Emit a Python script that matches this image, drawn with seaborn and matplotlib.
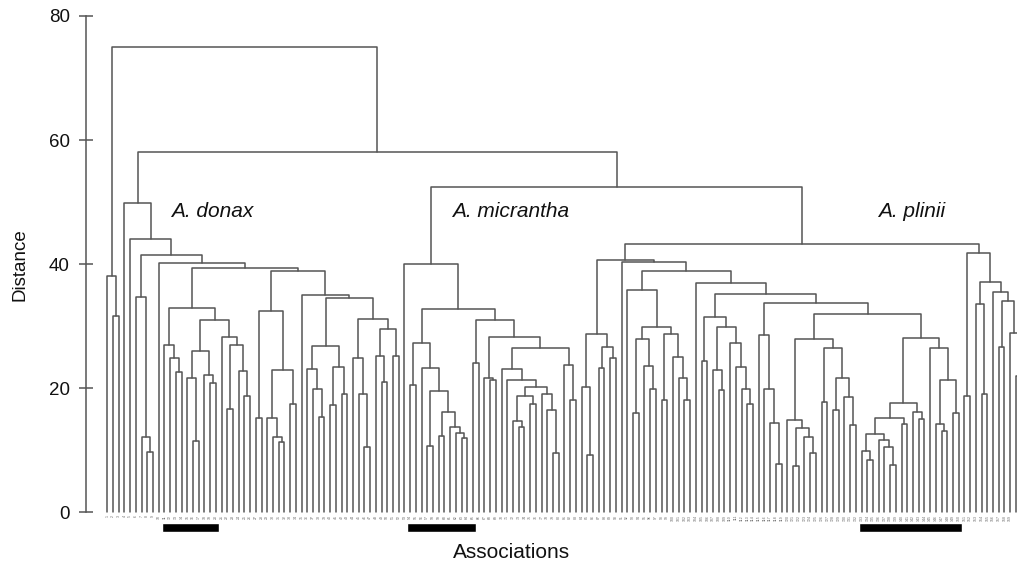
import numpy as np
import pandas as pd
import matplotlib
matplotlib.use('Agg')
import matplotlib.pyplot as plt
import seaborn as sns

outgroup_gaps = [38.1, 31.6]
root_height = 75.0
donax_gaps = [49.9, 44.1, 34.7, 12.1, 9.7, 41.5, 40.1, 26.9, 24.8, 22.6,
              32.9, 21.7, 11.5, 26.0, 22.1, 20.8, 30.9, 28.3, 16.7, 26.9,
              22.8, 18.8, 39.4, 15.2, 32.5, 15.2, 12.1, 11.3, 22.9, 17.4,
              38.8, 35.0, 23.0, 19.8, 15.4, 26.8, 17.3, 23.4, 19.0, 34.5,
              24.8, 19.1, 10.5, 31.2, 25.2, 21.0, 29.6, 25.2]
donax_split = 58.0
micrantha_gaps = [40.0, 20.5, 27.3, 23.2, 10.6, 19.6, 12.3, 16.2, 13.8, 12.8,
                  12.0, 32.8, 24.0, 30.9, 21.6, 21.3, 28.3, 23.0, 21.3, 14.7,
                  13.8, 18.8, 17.5, 20.2, 19.0, 16.5, 9.6, 26.4, 23.7, 18.1]
micrantha_split = 52.4
plinii_gaps = [20.2, 9.2, 28.8, 23.2, 26.7, 24.8,
               40.6, 40.4, 35.8,
               16.0, 27.9, 23.5, 19.9, 29.8, 18.1, 28.7, 25.0, 21.6, 18.1,
               38.8, 37.0,
               24.4, 31.4, 22.9, 19.7, 29.8, 27.3, 23.4, 19.9, 17.4,
               35.2,
               28.5, 19.8, 14.4, 7.8,
               33.7,
               14.8, 7.5, 13.5, 12.1, 9.5, 27.9, 17.8, 26.4, 16.5, 21.6, 18.5, 14.0,
               32.0,
               9.9, 8.4, 12.6, 11.6, 10.5, 7.6, 15.1, 14.2, 17.6, 16.2, 15.0,
               28.1, 26.4, 14.2, 13.0, 21.3, 15.9,
               43.3,
               18.7, 41.8, 33.5, 19.1, 37.1, 35.5, 26.7, 34.0, 28.9, 22.0]

# Grupos marcados con barras negras (indice de hoja inicial y final)
bar_first_leaf = [10, 53, 132]
bar_last_leaf = [19, 64, 149]

species = ['A. donax', 'A. micrantha', 'A. plinii']
species_x = [11.2, 60.4, 134.9]
species_y = [48.4, 48.4, 48.4]

gaps = np.array(outgroup_gaps + [root_height] + donax_gaps + [donax_split]
                + micrantha_gaps + [micrantha_split] + plinii_gaps)
n_leaves = len(gaps) + 1
leaf_ids = [str(i) for i in range(1, n_leaves + 1)]

# Reconstruir el arbol: la mayor altura entre vecinos divide cada grupo
points = []
def build(lo, hi):
    if lo == hi:
        return float(lo), 0.0
    k = lo + int(np.argmax(gaps[lo:hi]))
    xl, hl = build(lo, k)
    xr, hr = build(k + 1, hi)
    h = gaps[k]
    link = len(points)
    for px, py in [(xl, hl), (xl, h), (xr, h), (xr, hr)]:
        points.append({'link': link, 'x': px, 'y': py})
    return (xl + xr) / 2, h

build(0, n_leaves - 1)
links = pd.DataFrame(points)

sns.set_style('white')
plt.rcParams['font.family'] = ['Liberation Sans', 'DejaVu Sans']

fig = plt.figure(figsize=(10.17, 5.70), dpi=100)
ax = fig.add_axes([86 / 1017, 30 / 570, 931 / 1017, 524 / 570])

sns.lineplot(data=links, x='x', y='y', units='link', estimator=None, sort=False,
             color='#555555', linewidth=1.1, legend=False, ax=ax)

# Barras negras bajo las hojas
starts = np.array(bar_first_leaf) - 0.5
widths = np.array(bar_last_leaf) - np.array(bar_first_leaf) + 1
ax.barh(y=[-2.5] * len(starts), width=widths, left=starts, height=1.55, color='black')

# Etiquetas de las hojas (muy pequenas); la ultima queda fuera del recorte
xmax = 159.2
for i, lab in enumerate(leaf_ids):
    if i < xmax - 0.6:
        ax.text(i, -0.45, lab, rotation=90, fontsize=2.5, ha='center', va='top',
                color='#666666')

for name, sx, sy in zip(species, species_x, species_y):
    ax.text(sx, sy, name, fontsize=15, style='italic', ha='left', va='center', color='#111111')

ax.set_xlim(-3.73, xmax)
ax.set_ylim(-4.5, 80)
ax.set_xticks([])
ax.set_yticks([0, 20, 40, 60, 80])
ax.set_xlabel('')
ax.set_ylabel('')
for s in ['top', 'right', 'bottom']:
    ax.spines[s].set_visible(False)
ax.spines['left'].set_bounds(0, 80)
ax.spines['left'].set_color('#555555')
ax.spines['left'].set_linewidth(1.1)
ax.tick_params(axis='y', left=True, direction='inout', length=10.5, width=1.1,
               color='#555555', labelsize=13.5, pad=6.5, labelcolor='#111111')

fig.text(20 / 1017, 1 - 265 / 570, 'Distance', rotation=90, ha='center', va='center',
         fontsize=13.5, color='#111111')
fig.text(512 / 1017, 1 - 553 / 570, 'Associations', ha='center', va='center',
         fontsize=15, color='#111111')

fig.savefig('out.png', dpi=100)
